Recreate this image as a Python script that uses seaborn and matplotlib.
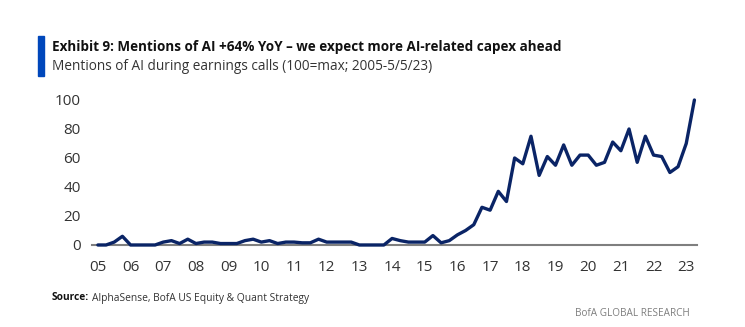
import numpy as np
import pandas as pd
import matplotlib
matplotlib.use("Agg")
import matplotlib.pyplot as plt
import seaborn as sns

# Quarterly index of AI mentions on earnings calls (100 = max), 2005Q1 onwards
mentions = [
    0, 0, 2, 6,        # 2005
    0, 0, 0, 0,        # 2006
    2, 3, 1, 4,        # 2007
    1, 2, 2, 1,        # 2008
    1, 1, 3, 4,        # 2009
    2, 3, 1, 2,        # 2010
    2, 1.5, 1.5, 4,    # 2011
    2, 2, 2, 2,        # 2012
    0, 0, 0, 0,        # 2013
    4.5, 3, 2, 2,      # 2014
    2, 6.5, 1.5, 3,    # 2015
    7, 10, 14, 26,     # 2016
    24, 37, 30, 60,    # 2017
    56, 75, 48, 61,    # 2018
    55, 69, 55, 62,    # 2019
    62, 55, 57, 71,    # 2020
    65, 80, 57, 75,    # 2021
    62, 61, 50, 54,    # 2022
    70, 100,           # 2023
]
start_year = 2005
tick_years = list(range(2005, 2024))
tick_labels = [f"{y % 100:02d}" for y in tick_years]
y_ticks = [0, 20, 40, 60, 80, 100]

title = "Exhibit 9: Mentions of AI +64% YoY \u2013 we expect more AI-related capex ahead"
subtitle = "Mentions of AI during earnings calls (100=max; 2005-5/5/23)"

df = pd.DataFrame({
    "date": start_year + np.arange(len(mentions)) * 0.25,
    "mentions": mentions,
})

sns.set_theme(style="white")
plt.rcParams["font.family"] = ["Open Sans", "DejaVu Sans"]

navy = "#0a2466"
fig = plt.figure(figsize=(7.45, 3.27), dpi=100)
ax = fig.add_axes([0.1235, 0.2508, 0.8121, 0.4434])

sns.lineplot(data=df, x="date", y="mentions", ax=ax, color=navy,
             linewidth=2.4, clip_on=False)

ax.set_xlim(2004.82, 2023.33)
ax.set_ylim(0, 100)
ax.set_xticks(tick_years)
ax.set_xticklabels(tick_labels)
ax.set_yticks(y_ticks)
ax.set_xlabel("")
ax.set_ylabel("")
for s in ["top", "right", "left"]:
    ax.spines[s].set_visible(False)
ax.spines["bottom"].set_color("#7f7f7f")
ax.spines["bottom"].set_linewidth(1.5)
ax.spines["bottom"].set_zorder(1)
ax.tick_params(axis="both", length=0, labelsize=11, labelcolor="#333333")
ax.tick_params(axis="x", pad=11)
ax.tick_params(axis="y", pad=8)
ax.grid(False)

# Header: accent bar, title and subtitle
fig.patches.append(plt.Rectangle((38 / 745, 1 - 76 / 327), 6 / 745, 40 / 327,
                                 transform=fig.transFigure, color="#0047bb"))
fig.text(52 / 745, 1 - 47 / 327, title, fontsize=9.75, fontweight="bold",
         color="#111111", va="center", ha="left")
fig.text(52 / 745, 1 - 67 / 327, subtitle, fontsize=9.8, color="#333333",
         va="center", ha="left")

# Footer
fig.text(52 / 745, 1 - 298 / 327, "Source:", fontsize=7.3, fontweight="bold",
         color="#111111", va="center", ha="left")
fig.text(92 / 745, 1 - 298 / 327, "AlphaSense, BofA US Equity & Quant Strategy",
         fontsize=7.4, color="#333333", va="center", ha="left")
fig.text(690 / 745, 1 - 314 / 327, "BofA GLOBAL RESEARCH", fontsize=7.2,
         color="#7f7f7f", va="center", ha="right")

fig.savefig("out.png", dpi=100, facecolor="white")
